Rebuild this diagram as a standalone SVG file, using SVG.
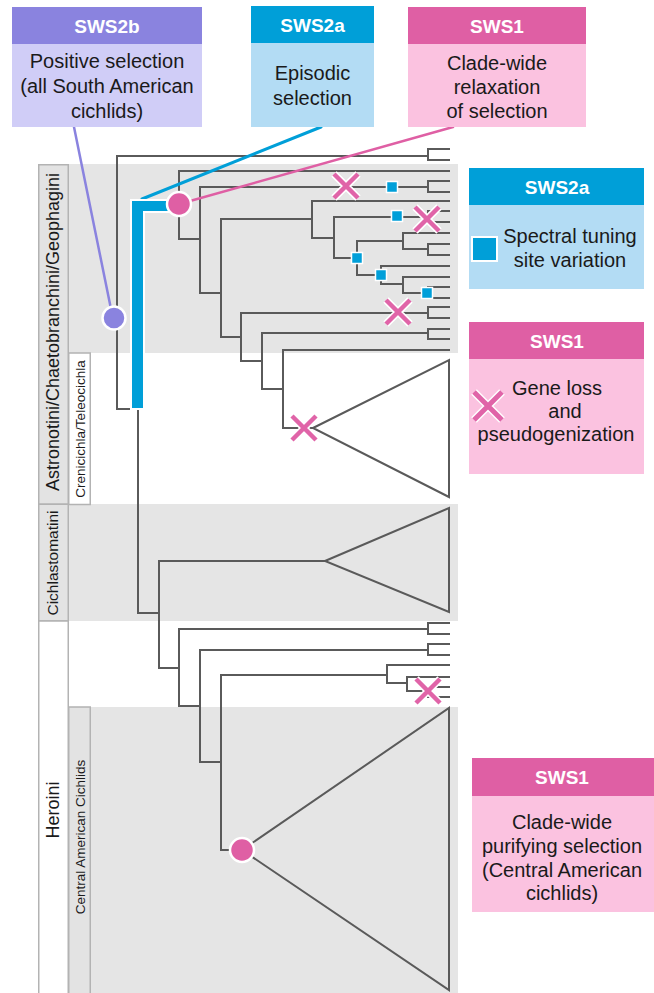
<svg xmlns="http://www.w3.org/2000/svg" width="654" height="993" viewBox="0 0 654 993">
<style>
.t{font-family:"Liberation Sans",Arial,Helvetica,sans-serif;fill:#1a1a1a;text-anchor:middle}
.b{font-size:20px}
.h{font-family:"Liberation Sans",Arial,Helvetica,sans-serif;font-weight:bold;fill:#fff;font-size:19px;text-anchor:middle}
.br{fill:none;stroke:#5a5a5a;stroke-width:2}
.band{fill:#e5e5e5}
.lab{stroke:#b3b3b3;stroke-width:1.5}
.pH{fill:#8a83df}.pB{fill:#d0cdf7}
.cH{fill:#009fd8}.cB{fill:#b3dcf4}
.kH{fill:#df5fa4}.kB{fill:#fbc2e0}
</style>
<defs>
<g id="xm"><path d="M-12,-12L12,12M12,-12L-12,12" stroke="#fff" stroke-width="7.5"/><path d="M-12,-12L12,12M12,-12L-12,12" stroke="#e064a8" stroke-width="4.5"/></g>
<g id="xl"><path d="M-14,-14L14,14M14,-14L-14,14" stroke="#fff" stroke-width="8"/><path d="M-14,-14L14,14M14,-14L-14,14" stroke="#e064a8" stroke-width="5"/></g>
<rect id="sq" x="-5.5" y="-5.5" width="11" height="11" fill="#009fd9" stroke="#fff" stroke-width="1.5"/>
</defs>

<g id="backgrounds">
<rect class="band" x="38" y="164" width="420" height="189"/>
<rect class="band" x="38" y="504" width="420" height="117"/>
<rect class="band" x="68" y="707" width="390" height="286"/>
</g>

<g id="label-astronotini">
<rect x="38.75" y="164.75" width="29.5" height="339.5" fill="#e3e3e3" class="lab"/>
<text class="t" font-size="18" transform="translate(58.5,332) rotate(-90)">Astronotini/Chaetobranchini/Geophagini</text>
</g>
<g id="label-crenicichla">
<rect x="68.75" y="353" width="21.5" height="151.5" fill="#fff" class="lab"/>
<text class="t" font-size="13.5" transform="translate(84.5,429) rotate(-90)">Crenicichla/Teleocichla</text>
</g>
<g id="label-cichlastomatini">
<rect x="38.75" y="504.25" width="29.5" height="116.75" fill="#e3e3e3" class="lab"/>
<text class="t" font-size="15.5" transform="translate(58,563) rotate(-90)">Cichlastomatini</text>
</g>
<g id="label-heroini">
<rect x="38.75" y="621" width="29.5" height="375" fill="#fff" class="lab"/>
<text class="t" font-size="18" transform="translate(58.5,810) rotate(-90)">Heroini</text>
</g>
<g id="label-central">
<rect x="68.75" y="707" width="21.5" height="290" fill="#e3e3e3" class="lab"/>
<text class="t" font-size="13.5" transform="translate(85,837) rotate(-90)">Central American Cichlids</text>
</g>

<g id="tree" class="br">
<path d="M450,149 H428 V160 H450 M428,156 H117 V409 H138"/>
<path d="M179,206 H138 V613 H159"/>
<path d="M450,171 H179 V239 H200"/>
<path d="M450,181 H428 V192 H450 M428,187 H200 V293 H221"/>
<path d="M312,219 H221 V337 H241"/>
<path d="M450,201 H312 V238 H334"/>
<path d="M450,211 H428 V222 H450 M428,217 H334 V258 H357"/>
<path d="M403,241 H357 V275 H381"/>
<path d="M450,233 H403 V249 H428 M450,244 H428 V255 H450"/>
<path d="M450,266 H381 V284 H403"/>
<path d="M450,277 H403 V293 H428 M450,287 H428 V298 H450"/>
<path d="M450,307 H428 V318 H450 M428,313 H241 V361 H262"/>
<path d="M450,329 H428 V339 H450 M428,333 H262 V389 H283"/>
<path d="M450,350 H283 V428 H313"/>
<path d="M313,428 L449,360 V497 Z"/>
<path d="M325,561 H159 V668 H179"/>
<path d="M325,561 L449,508 V612 Z"/>
<path d="M450,623 H428 V634 H450 M428,629 H179 V706 H200"/>
<path d="M450,644 H428 V655 H450 M428,650 H200 V762 H221"/>
<path d="M387,675 H221 V850 H242"/>
<path d="M450,665 H387 V683 H407"/>
<path d="M450,677 H407 V691 H428 M450,687 H428 V697 H450"/>
<path d="M242,850 L449,708 V990 Z"/>
</g>

<g id="connectors" fill="none" stroke-linecap="round">
<line x1="74" y1="127" x2="111" y2="309" stroke="#8a83df" stroke-width="2.5"/>
<line x1="321" y1="127" x2="142" y2="199" stroke="#009fd8" stroke-width="3"/>
<line x1="453" y1="127" x2="190" y2="201" stroke="#df5fa4" stroke-width="2.5"/>
</g>

<g id="sws2a-branch">
<path d="M131,200 H172 V212 H144 V409 H131 Z" fill="#009fd8" stroke="#fff" stroke-width="2"/>
</g>

<g id="events">
<use href="#xm" x="346" y="186"/>
<use href="#xm" x="427" y="219"/>
<use href="#xm" x="398" y="312"/>
<use href="#xm" x="304" y="428"/>
<use href="#xm" x="428" y="691"/>
<use href="#sq" x="392" y="187"/>
<use href="#sq" x="397" y="216"/>
<use href="#sq" x="357" y="258"/>
<use href="#sq" x="381" y="275"/>
<use href="#sq" x="427" y="293"/>
</g>

<g id="node-sws2b-circle"><circle cx="114" cy="318" r="11.5" fill="#8a83df" stroke="#fff" stroke-width="2.5"/></g>
<g id="node-sws1-relax-circle"><circle cx="179" cy="204" r="12" fill="#df5fa4" stroke="#fff" stroke-width="2.5"/></g>
<g id="node-sws1-purify-circle"><circle cx="242" cy="850" r="12" fill="#df5fa4" stroke="#fff" stroke-width="2.5"/></g>

<g id="box-sws2b">
<rect class="pB" x="12" y="44" width="190" height="83"/>
<rect class="pH" x="12" y="7" width="190" height="37"/>
<text class="h" x="107" y="33">SWS2b</text>
<text class="t b" x="107" y="68">Positive selection</text>
<text class="t b" x="107" y="93">(all South American</text>
<text class="t b" x="107" y="118">cichlids)</text>
</g>

<g id="box-sws2a-top">
<rect class="cB" x="251" y="43" width="123" height="84"/>
<rect class="cH" x="251" y="6" width="123" height="37"/>
<text class="h" x="312.5" y="32">SWS2a</text>
<text class="t b" x="312.5" y="80">Episodic</text>
<text class="t b" x="312.5" y="105">selection</text>
</g>

<g id="box-sws1-top">
<rect class="kB" x="408" y="44" width="178" height="83"/>
<rect class="kH" x="408" y="7" width="178" height="37"/>
<text class="h" x="497" y="33">SWS1</text>
<text class="t b" x="497" y="70">Clade-wide</text>
<text class="t b" x="497" y="94">relaxation</text>
<text class="t b" x="497" y="118">of selection</text>
</g>

<g id="box-sws2a-legend">
<rect class="cB" x="469" y="205" width="175" height="84"/>
<rect class="cH" x="469" y="168" width="175" height="37"/>
<text class="h" x="557" y="193.5">SWS2a</text>
<rect x="472" y="237" width="25" height="24" fill="#009fd8" stroke="#fff" stroke-width="2"/>
<text class="t b" x="570" y="243">Spectral tuning</text>
<text class="t b" x="570" y="267">site variation</text>
</g>

<g id="box-sws1-legend">
<rect class="kB" x="469" y="359" width="175" height="115"/>
<rect class="kH" x="469" y="322" width="175" height="37"/>
<text class="h" x="557" y="347.5">SWS1</text>
<use href="#xl" x="488" y="406"/>
<text class="t b" x="557" y="395">Gene loss</text>
<text class="t b" x="565" y="418">and</text>
<text class="t b" x="556" y="441">pseudogenization</text>
</g>

<g id="box-sws1-bottom">
<rect class="kB" x="472" y="796" width="182" height="116"/>
<rect class="kH" x="472" y="758" width="182" height="38"/>
<text class="h" x="562" y="784">SWS1</text>
<text class="t b" x="562" y="829">Clade-wide</text>
<text class="t b" x="562" y="853">purifying selection</text>
<text class="t b" x="562" y="877">(Central American</text>
<text class="t b" x="562" y="900">cichlids)</text>
</g>
</svg>
